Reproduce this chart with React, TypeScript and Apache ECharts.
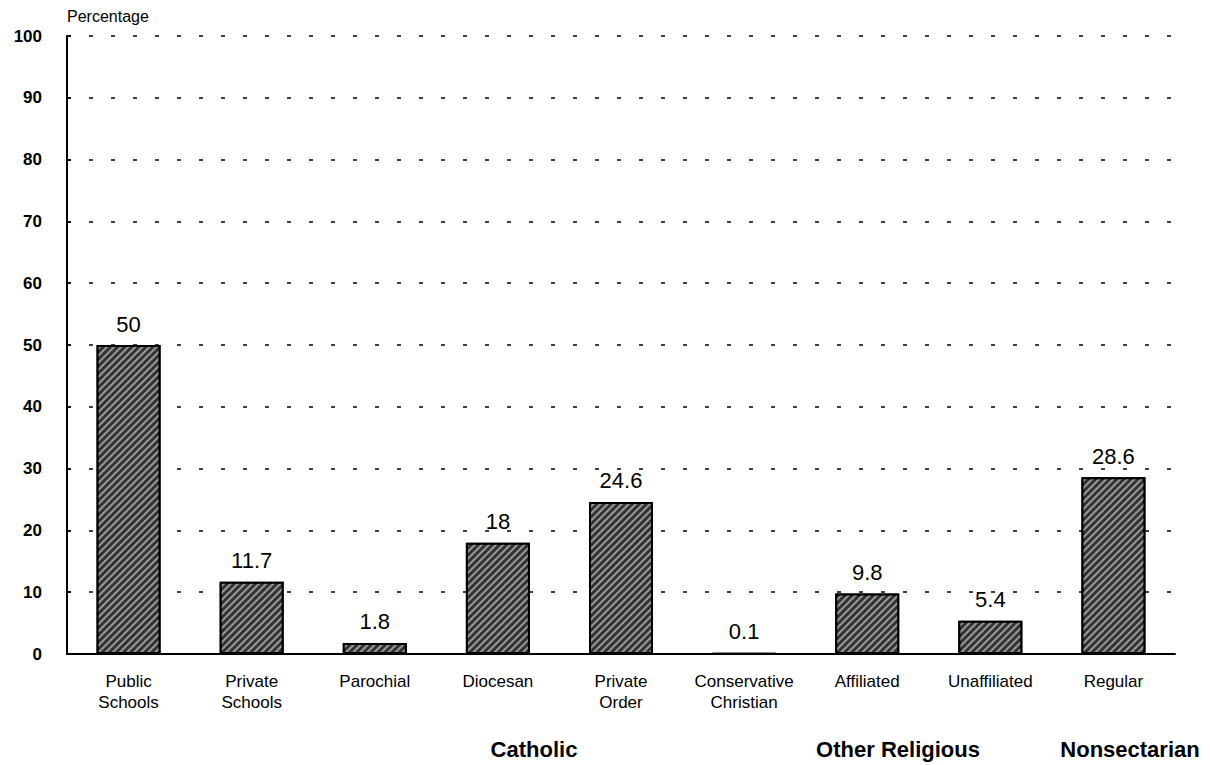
import React, { useEffect, useRef } from "react";
import * as echarts from "echarts";

const categories = [
  "Public\nSchools",
  "Private\nSchools",
  "Parochial",
  "Diocesan",
  "Private\nOrder",
  "Conservative\nChristian",
  "Affiliated",
  "Unaffiliated",
  "Regular",
];
const values = [50, 11.7, 1.8, 18, 24.6, 0.1, 9.8, 5.4, 28.6];
const valueLabels = ["50", "11.7", "1.8", "18", "24.6", "0.1", "9.8", "5.4", "28.6"];
const groupLabels = ["Catholic", "Other Religious", "Nonsectarian"];
const yTicks = [0, 10, 20, 30, 40, 50, 60, 70, 80, 90, 100];

const FONT = "'Liberation Sans', Arial, Helvetica, sans-serif";

export default function App() {
  const ref = useRef<HTMLDivElement>(null);
  useEffect(() => {
    if (!ref.current) return;
    const chart = echarts.init(ref.current, null, { renderer: "svg" });
    const groupStyle = { fill: "#000", font: `bold 22px ${FONT}`, textAlign: "center", textVerticalAlign: "middle" };
    chart.setOption({
      animation: false,
      backgroundColor: "#ffffff",
      grid: { left: 67, right: 35, top: 36, bottom: 111, containLabel: false },
      xAxis: {
        type: "category",
        data: categories,
        boundaryGap: true,
        axisLine: { show: true, lineStyle: { color: "#000", width: 2 } },
        axisTick: { show: false },
        axisLabel: {
          color: "#000",
          fontFamily: FONT,
          fontSize: 17,
          lineHeight: 21,
          margin: 17,
          interval: 0,
          verticalAlign: "top",
        },
      },
      yAxis: {
        type: "value",
        min: yTicks[0],
        max: yTicks[yTicks.length - 1],
        interval: 10,
        name: "Percentage",
        nameLocation: "end",
        nameGap: 12,
        nameTextStyle: { color: "#000", fontFamily: FONT, fontSize: 16, align: "left" },
        axisLine: { show: true, lineStyle: { color: "#000", width: 2 } },
        axisTick: { show: true, inside: true, length: 4, lineStyle: { color: "#000", width: 1.5 } },
        axisLabel: {
          color: "#000",
          fontFamily: FONT,
          fontSize: 17,
          fontWeight: "bold",
          margin: 25,
        },
        splitLine: {
          show: true,
          lineStyle: { color: "#000", width: 1.5, type: [4, 18] },
        },
      },
      series: [
        {
          type: "bar",
          data: values,
          barWidth: "52%",
          itemStyle: {
            color: "#333333",
            borderColor: "#000",
            borderWidth: 2,
            decal: {
              symbol: "rect",
              color: "rgba(255,255,255,0.5)",
              dashArrayX: [[1, 0]],
              dashArrayY: [1.2, 2.2],
              rotation: -Math.PI / 4,
            },
          },
          label: {
            show: true,
            position: "top",
            distance: 10,
            color: "#000",
            fontFamily: FONT,
            fontSize: 22,
            formatter: (p: any) => valueLabels[p.dataIndex],
          },
        },
      ],
      graphic: [
        { type: "text", x: 534, y: 749, style: { ...groupStyle, text: groupLabels[0] } },
        { type: "text", x: 898, y: 749, style: { ...groupStyle, text: groupLabels[1] } },
        { type: "text", x: 1130, y: 749, style: { ...groupStyle, text: groupLabels[2] } },
      ],
    });
    return () => chart.dispose();
  }, []);
  return <div ref={ref} style={{ width: 1210, height: 765, position: "absolute", left: 0, top: 0 }} />;
}
